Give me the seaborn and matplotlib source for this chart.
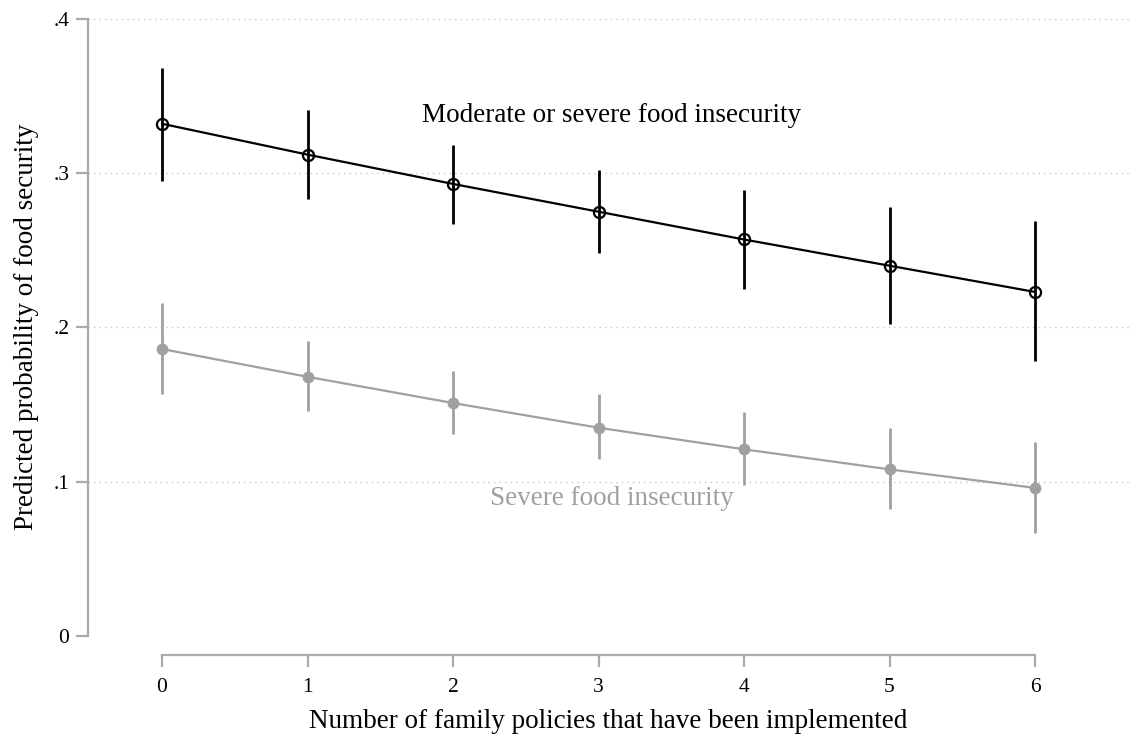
import matplotlib
matplotlib.use("Agg")
import matplotlib.pyplot as plt
import seaborn as sns
import numpy as np
import pandas as pd

# values
policies = [0, 1, 2, 3, 4, 5, 6]
moderate = [0.332, 0.312, 0.293, 0.275, 0.257, 0.240, 0.223]
moderate_lo = [0.295, 0.283, 0.267, 0.248, 0.225, 0.202, 0.178]
moderate_hi = [0.368, 0.341, 0.318, 0.302, 0.289, 0.278, 0.269]
severe = [0.186, 0.168, 0.151, 0.135, 0.121, 0.108, 0.096]
severe_lo = [0.157, 0.146, 0.131, 0.115, 0.098, 0.082, 0.067]
severe_hi = [0.216, 0.191, 0.172, 0.157, 0.145, 0.135, 0.126]
yticks = [0, 0.1, 0.2, 0.3, 0.4]
ytick_labels = ["0", ".1", ".2", ".3", ".4"]

df = pd.DataFrame({
    "policies": policies * 2,
    "prob": moderate + severe,
    "lo": moderate_lo + severe_lo,
    "hi": moderate_hi + severe_hi,
    "outcome": ["Moderate or severe food insecurity"] * 7 + ["Severe food insecurity"] * 7,
})

sns.set_style("white")
plt.rcParams["font.family"] = ["Liberation Serif", "DejaVu Serif"]
plt.rcParams["text.color"] = "black"
plt.rcParams["axes.labelcolor"] = "black"

grey = "#a0a0a0"
spine_col = "#aaaaaa"

fig = plt.figure(figsize=(11.29, 7.35), dpi=100)
ax = fig.add_axes([88 / 1129, (735 - 636) / 735, (1129 - 88) / 1129, (636 - 17) / 735])

# dotted gridlines (none at zero)
for yv in yticks[1:]:
    ax.axhline(yv, color="#c8c8c8", linestyle=(0, (1, 3)), linewidth=1.0, zorder=0)

# confidence intervals
sev = df[df["outcome"] == "Severe food insecurity"]
mod = df[df["outcome"] == "Moderate or severe food insecurity"]
ax.vlines(sev["policies"], sev["lo"], sev["hi"], color=grey, linewidth=2.0, zorder=2)
ax.vlines(mod["policies"], mod["lo"], mod["hi"], color="black", linewidth=2.0, zorder=3)

# lines with markers
sns.lineplot(data=sev, x="policies", y="prob", color=grey, linewidth=1.6,
             marker="o", markersize=8.5, markeredgewidth=0, ax=ax, zorder=4)
sns.lineplot(data=mod, x="policies", y="prob", color="black", linewidth=1.6,
             marker="o", markersize=8, markerfacecolor="none", markeredgecolor="black",
             markeredgewidth=1.6, ax=ax, zorder=5)

ax.text(3.09, 0.3375, "Moderate or severe food insecurity", ha="center", va="center",
        fontsize=19.5, color="black")
ax.text(3.09, 0.0888, "Severe food insecurity", ha="center", va="center",
        fontsize=19.5, color=grey)

ax.set_xlim(-0.509, 6.646)
ax.set_ylim(0, 0.4012)
ax.set_xticks(policies)
ax.set_yticks(yticks)
ax.set_yticklabels(ytick_labels)

for s in ["top", "right"]:
    ax.spines[s].set_visible(False)
ax.spines["left"].set_color(spine_col)
ax.spines["bottom"].set_color(spine_col)
ax.spines["left"].set_linewidth(1.6)
ax.spines["bottom"].set_linewidth(1.6)
ax.spines["bottom"].set_position(("outward", 13.7))
ax.spines["bottom"].set_bounds(0, 6)
ax.spines["left"].set_bounds(0, 0.4)

ax.tick_params(axis="both", direction="out", length=8.5, width=1.6, color=spine_col,
               labelsize=15.5, pad=5, labelcolor="black", bottom=True, left=True)
ax.tick_params(axis="x", pad=8)

ax.set_xlabel("Number of family policies that have been implemented", fontsize=19.5,
              labelpad=9, color="black")
ax.set_ylabel("Predicted probability of food security", fontsize=19.5, labelpad=10,
              color="black")

fig.savefig("out.png", dpi=100)
